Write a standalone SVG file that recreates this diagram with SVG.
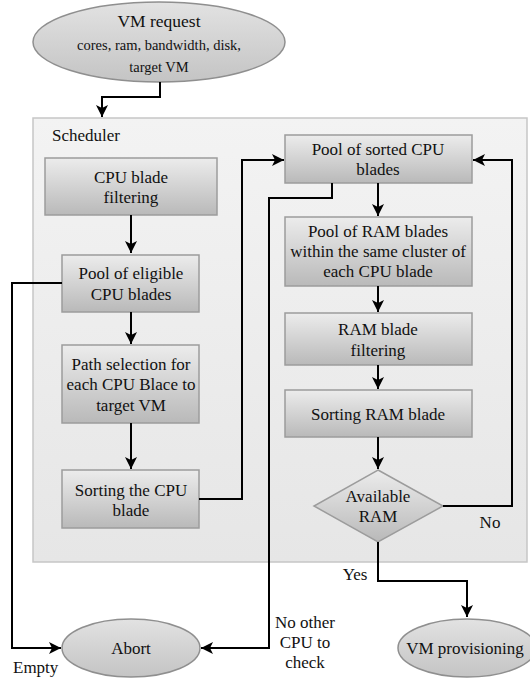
<svg xmlns="http://www.w3.org/2000/svg" width="530" height="679" viewBox="0 0 530 679">
<defs>
<linearGradient id="boxg" x1="0" y1="0" x2="0" y2="1">
<stop offset="0" stop-color="#ececec"/><stop offset="1" stop-color="#b9b9b9"/>
</linearGradient>
<linearGradient id="ellg" x1="0" y1="0" x2="0" y2="1">
<stop offset="0" stop-color="#e2e2e2"/><stop offset="1" stop-color="#c4c4c4"/>
</linearGradient>
<linearGradient id="schg" x1="0" y1="0" x2="0" y2="1">
<stop offset="0" stop-color="#f3f3f3"/><stop offset="1" stop-color="#e6e6e6"/>
</linearGradient>
<marker id="ah" markerUnits="userSpaceOnUse" markerWidth="14" markerHeight="14" refX="12" refY="6" orient="auto">
<path d="M0,0 L12,6 L0,12 L3,6 z" fill="#000"/>
</marker>
</defs>
<style>
text{font-family:'Liberation Serif','Times New Roman',serif;fill:#111;text-anchor:middle;font-size:17px}
.box{fill:url(#boxg);stroke:#9c9c9c;stroke-width:1.5}
.ell{fill:url(#ellg);stroke:#8f8f8f;stroke-width:1.5}
.c{fill:none;stroke:#000;stroke-width:2;marker-end:url(#ah)}
</style>
<g id="scheduler">
<rect x="33" y="118" width="494" height="444" fill="url(#schg)" stroke="#c6c6c6" stroke-width="1.5"/>
<text x="52" y="141" style="text-anchor:start">Scheduler</text>
</g>
<g id="vmrequest">
<ellipse cx="159" cy="42" rx="126" ry="40" class="ell"/>
<text x="159" y="27" style="font-size:17.5px">VM request</text>
<text x="159" y="50" style="font-size:14.5px">cores, ram, bandwidth, disk,</text>
<text x="159" y="72" style="font-size:14.5px">target VM</text>
</g>
<g id="cpufilter">
<rect x="45" y="158" width="172" height="57" class="box"/>
<text x="131" y="183">CPU blade</text>
<text x="131" y="203">filtering</text>
</g>
<g id="eligible">
<rect x="62" y="255" width="137" height="57" class="box"/>
<text x="131" y="279">Pool of eligible</text>
<text x="131" y="300">CPU blades</text>
</g>
<g id="pathsel">
<rect x="62" y="345" width="137" height="78" class="box"/>
<text x="131" y="370">Path selection for</text>
<text x="131" y="390">each CPU Blace to</text>
<text x="131" y="411">target VM</text>
</g>
<g id="sortcpu">
<rect x="62" y="470" width="137" height="58" class="box"/>
<text x="131" y="496">Sorting the CPU</text>
<text x="131" y="516">blade</text>
</g>
<g id="sortedpool">
<rect x="285" y="135" width="187" height="48" class="box"/>
<text x="378" y="155">Pool of sorted CPU</text>
<text x="378" y="175">blades</text>
</g>
<g id="rampool">
<rect x="285" y="217" width="187" height="69" class="box"/>
<text x="378" y="237">Pool of RAM blades</text>
<text x="378" y="257">within the same cluster of</text>
<text x="378" y="277">each CPU blade</text>
</g>
<g id="ramfilter">
<rect x="285" y="313" width="187" height="52" class="box"/>
<text x="378" y="335">RAM blade</text>
<text x="378" y="356">filtering</text>
</g>
<g id="sortram">
<rect x="285" y="390" width="187" height="47" class="box"/>
<text x="378" y="420">Sorting RAM blade</text>
</g>
<g id="available">
<polygon points="378,470 443,506 378,542 314,506" class="box"/>
<text x="378" y="502">Available</text>
<text x="378" y="522">RAM</text>
</g>
<g id="abort">
<ellipse cx="131" cy="648" rx="69" ry="29" class="ell"/>
<text x="131" y="654">Abort</text>
</g>
<g id="provision">
<ellipse cx="467" cy="648" rx="69" ry="29" class="ell"/>
<text x="465" y="654">VM provisioning</text>
</g>
<g id="connectors">
<path d="M160,82 V97 H102 V117" class="c"/>
<path d="M131,215 V253" class="c"/>
<path d="M131,312 V344" class="c"/>
<path d="M131,423 V469" class="c"/>
<path d="M62,283 H12 V648 H61" class="c"/>
<path d="M199,499 H242 V160 H284" class="c"/>
<path d="M332,183 V198 H269 V648 H201" class="c"/>
<path d="M378,183 V216" class="c"/>
<path d="M378,286 V312" class="c"/>
<path d="M378,365 V389" class="c"/>
<path d="M378,437 V469" class="c"/>
<path d="M443,506 H512 V160 H473" class="c"/>
<path d="M378,542 V581 H467 V617" class="c"/>
</g>
<g id="labels">
<text x="490" y="528">No</text>
<text x="355" y="580">Yes</text>
<text x="13" y="673" style="text-anchor:start">Empty</text>
<text x="305" y="628">No other</text>
<text x="305" y="648">CPU to</text>
<text x="305" y="668">check</text>
</g>
</svg>
